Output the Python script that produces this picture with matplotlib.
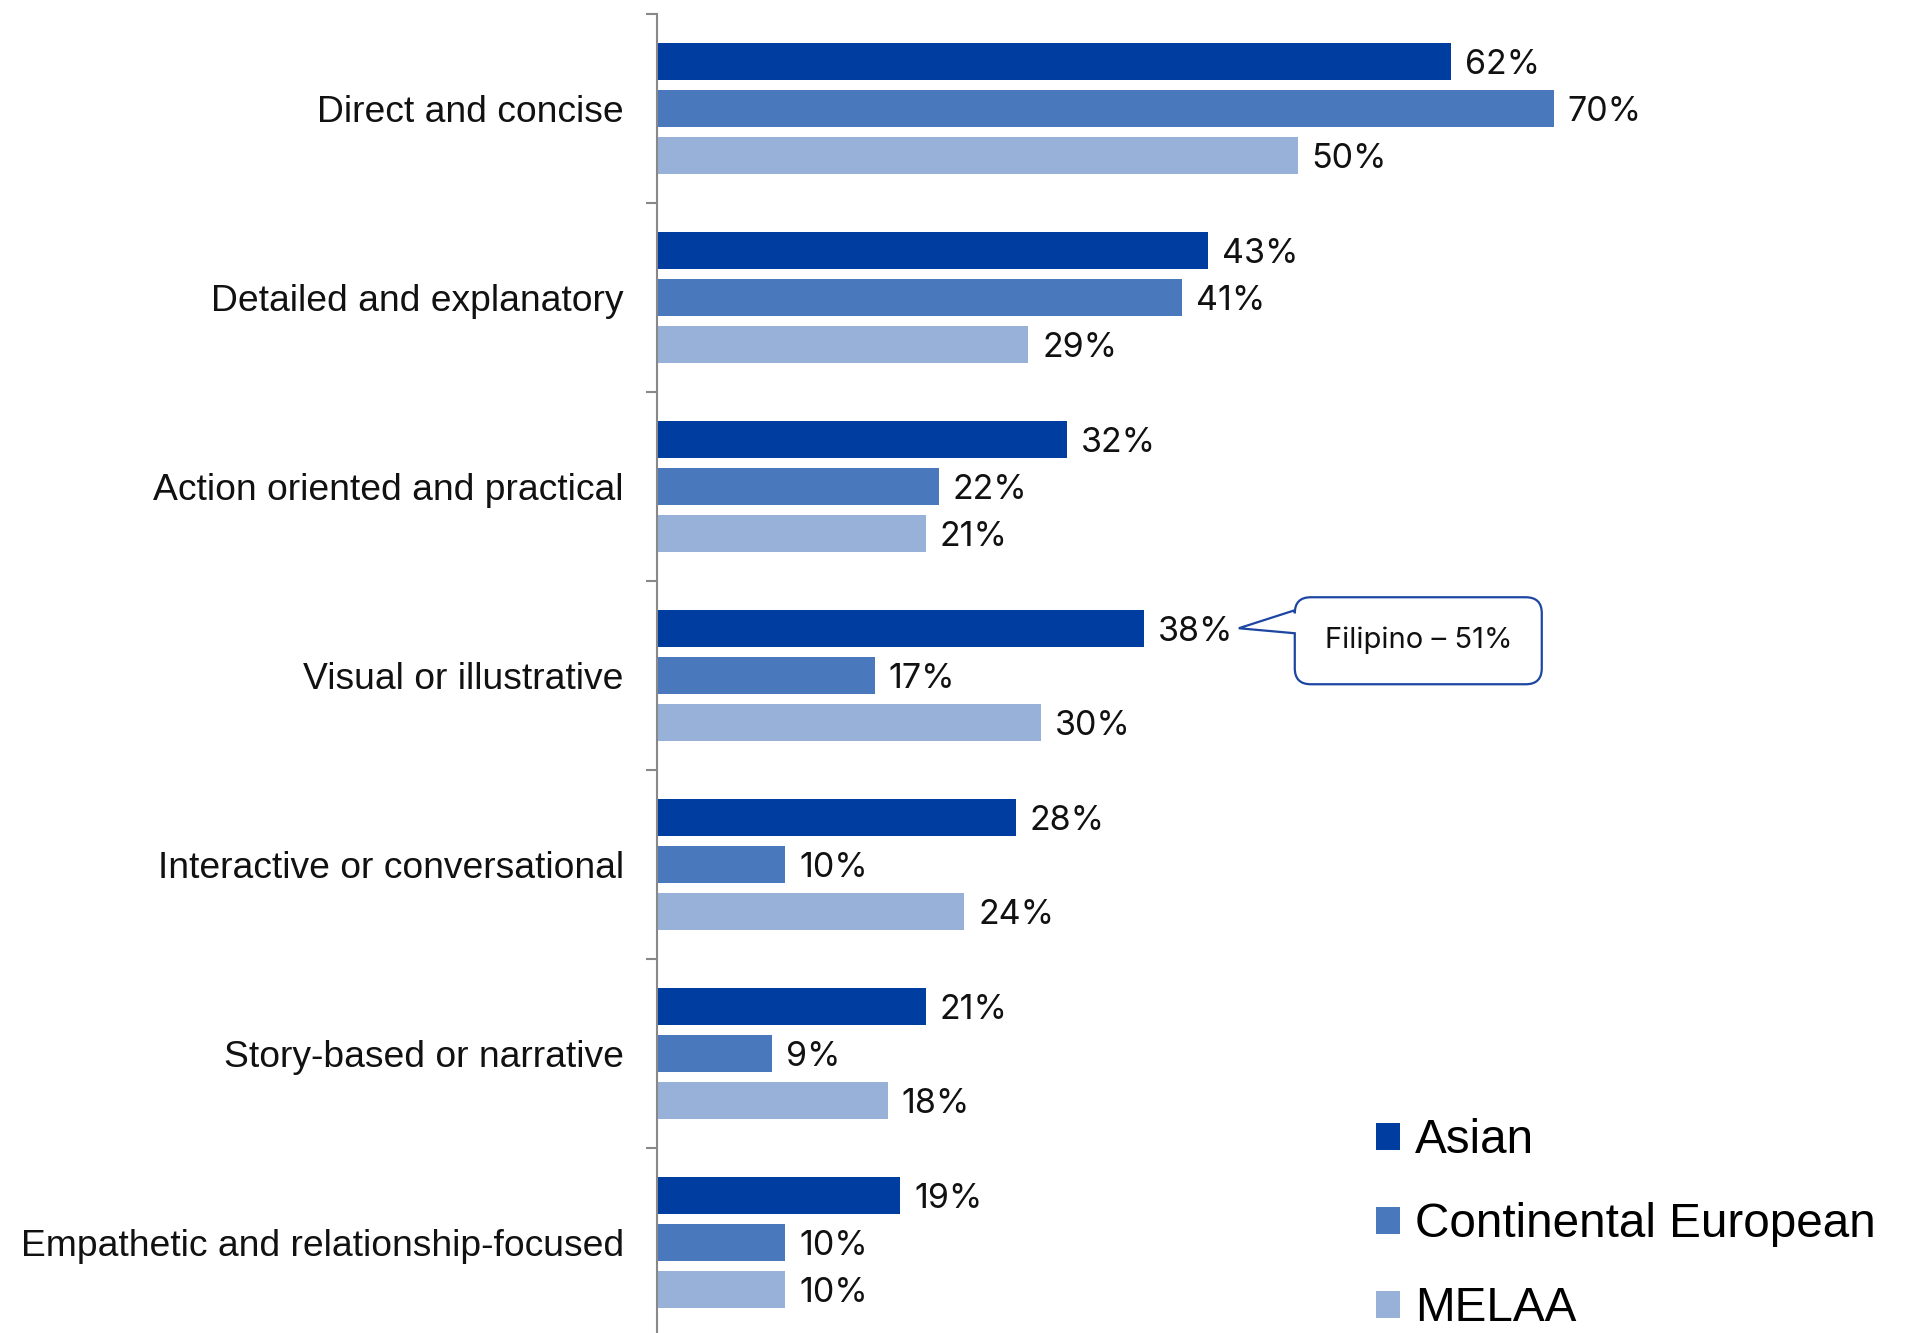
import matplotlib
matplotlib.use("Agg")
import matplotlib.pyplot as plt
import numpy as np
from matplotlib.patches import Patch, PathPatch
from matplotlib.path import Path
from matplotlib import transforms

# Data
categories = [
    "Direct and concise",
    "Detailed and explanatory",
    "Action oriented and practical",
    "Visual or illustrative",
    "Interactive or conversational",
    "Story-based or narrative",
    "Empathetic and relationship-focused",
]
series_names = ["Asian", "Continental European", "MELAA"]
asian = [62, 43, 32, 38, 28, 21, 19]
continental_european = [70, 41, 22, 17, 10, 9, 10]
melaa = [50, 29, 21, 30, 24, 18, 10]
callout_text = "Filipino \u2013 51%"
callout_category = "Visual or illustrative"

colors = ["#003DA0", "#4A78BD", "#98B1D9"]
W, H = 1914, 1333
DPI = 100
fig = plt.figure(figsize=(W / DPI, H / DPI), dpi=DPI)

x0_px = 657
px_per_pct = 12.81
top_px, band_px = 14, 189
n = len(categories)
ax_h_px = band_px * n
ax = fig.add_axes([x0_px / W, (H - top_px - ax_h_px) / H,
                   (W - x0_px) / W, ax_h_px / H])
ax.set_xlim(0, (W - x0_px) / px_per_pct)
ax.set_ylim(n - 0.5, -0.5)

y = np.arange(n)
bar_h = 0.197
offsets = [-0.25, 0.0, 0.25]
all_series = [asian, continental_european, melaa]
value_font = "Inter"
for vals, off, col, name in zip(all_series, offsets, colors, series_names):
    ax.barh(y + off, vals, height=bar_h, color=col, label=name)
    for yi, v in zip(y, vals):
        ax.annotate(f"{v}%", (v, yi + off), xytext=(10, -2.5),
                    textcoords="offset points", va="center", ha="left",
                    fontsize=24.5, family=value_font, color="#111111")

# Axis styling
for s in ["top", "right", "bottom"]:
    ax.spines[s].set_visible(False)
ax.spines["left"].set_color("#888888")
ax.spines["left"].set_linewidth(1.5)
ax.set_xticks([])
ax.set_yticks(y)
ax.set_yticklabels(categories, fontsize=26.8, family="Liberation Sans",
                   color="#111111")
ax.tick_params(axis="y", which="major", length=0, pad=24)
ax.set_yticks(np.arange(-0.5, n + 0.5, 1), minor=True)
ax.tick_params(axis="y", which="minor", length=8, width=1.5,
               color="#888888", direction="out")

# Callout next to the Asian bar of the highlighted category
ci = categories.index(callout_category)
tip_x, tip_y = asian[ci], ci + offsets[0]
k = DPI / 72.0
trans = transforms.Affine2D() + transforms.ScaledTranslation(
    tip_x, tip_y, ax.transData)
dx0 = 95  # tip offset from bar end, px
L, R = dx0 + 56, dx0 + 303
T, B = 31, -56
r = 16
ub, lb = 18, -5
verts = [
    (L, ub), (L, T - r), (L, T), (L + r, T),
    (R - r, T), (R, T), (R, T - r),
    (R, B + r), (R, B), (R - r, B),
    (L + r, B), (L, B), (L, B + r),
    (L, lb), (dx0, 0), (L, ub),
]
codes = [Path.MOVETO, Path.LINETO, Path.CURVE3, Path.CURVE3,
         Path.LINETO, Path.CURVE3, Path.CURVE3,
         Path.LINETO, Path.CURVE3, Path.CURVE3,
         Path.LINETO, Path.CURVE3, Path.CURVE3,
         Path.LINETO, Path.LINETO, Path.CLOSEPOLY]
callout = PathPatch(Path(verts, codes), transform=trans, facecolor="white",
                    edgecolor="#1C46A2", linewidth=1.6, clip_on=False,
                    zorder=5)
ax.add_patch(callout)
ax.annotate(callout_text, (tip_x, tip_y),
            xytext=((L + R) / 2 / k, (T + B) / 2 / k),
            textcoords="offset points", ha="center", va="center",
            fontsize=21, family="Inter", color="#111111", zorder=6)

# Legend
handles = [Patch(facecolor=c, edgecolor="none") for c in colors]
fig.legend(handles, series_names, loc="upper left",
           bbox_to_anchor=(1376 / W, 1 - 1118 / H),
           frameon=False, prop={"family": "Liberation Sans", "size": 34.3},
           handlelength=0.5, handleheight=0.5, handletextpad=0.32,
           labelspacing=0.82, borderpad=0, borderaxespad=0)

fig.savefig("out.png", dpi=DPI)
